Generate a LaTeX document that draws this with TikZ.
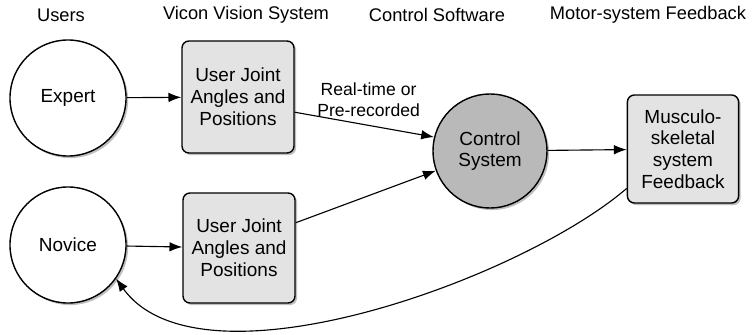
\documentclass[tikz,border=0pt]{standalone}
\usepackage{fontspec}
\setmainfont{Liberation Sans}
\usepackage{tikz}
\usetikzlibrary{arrows.meta, shadows}

\begin{document}
\begin{tikzpicture}[
    x=0.025cm, y=-0.025cm,
    every node/.style={font=\fontsize{13.5}{15.5}\selectfont},
    userball/.style={circle, draw, line width=1pt, fill=white, minimum size=2.9cm, align=center,
        drop shadow={shadow xshift=1.5pt, shadow yshift=-1.5pt, opacity=0.5}},
    databox/.style={rectangle, draw, line width=1pt, rounded corners=5pt, fill=gray!22, align=center,
        minimum width=2.8cm, minimum height=2.8cm,
        drop shadow={shadow xshift=1.5pt, shadow yshift=-1.5pt, opacity=0.5}},
    ctrlball/.style={userball, fill=gray!55, minimum size=2.85cm},
    heading/.style={font=\fontsize{13}{15}\selectfont},
    arr/.style={-{Latex[length=3.2mm, width=2.4mm]}, line width=0.8pt}
]
\useasboundingbox (0,0) rectangle (752,335);

% Column headings
\node[heading] (hUsers) at (61,15) {Users};
\node[heading] (hVicon) at (246,15) {Vicon Vision System};
\node[heading] (hCtrl) at (437,15) {Control Software};
\node[heading] (hMotor) at (648,15) {Motor-system Feedback};

% Users
\node[userball] (expert) at (68,98) {Expert};
\node[userball] (novice) at (68,245) {Novice};

% Captured joint data
\node[databox] (capA) at (238,97) {User Joint\\Angles and\\Positions};
\node[databox, minimum height=2.75cm] (capB) at (239,248) {User Joint\\Angles and\\Positions};

% Control software and feedback
\node[ctrlball] (ctrl) at (490,151) {Control\\System};
\node[databox, minimum width=2.78cm, minimum height=2.7cm] (fb) at (683,149) {Musculo-\\skeletal\\system\\Feedback};

% Connections
\draw[arr] (expert) -- (capA);
\draw[arr] (novice) -- (capB);
\draw[arr] (capA.-15) -- node[above, pos=0.5, xshift=3pt, yshift=2pt, align=center,
    font=\fontsize{12.5}{14.5}\selectfont] (recLabel) {Real-time or\\Pre-recorded} (ctrl.166);
\draw[arr] (capB.24) -- (ctrl.200);
\draw[arr] (ctrl) -- (fb);
\draw[arr] (fb.215) .. controls (520,280) and (200,395) .. (novice.-35);

\end{tikzpicture}
\end{document}
